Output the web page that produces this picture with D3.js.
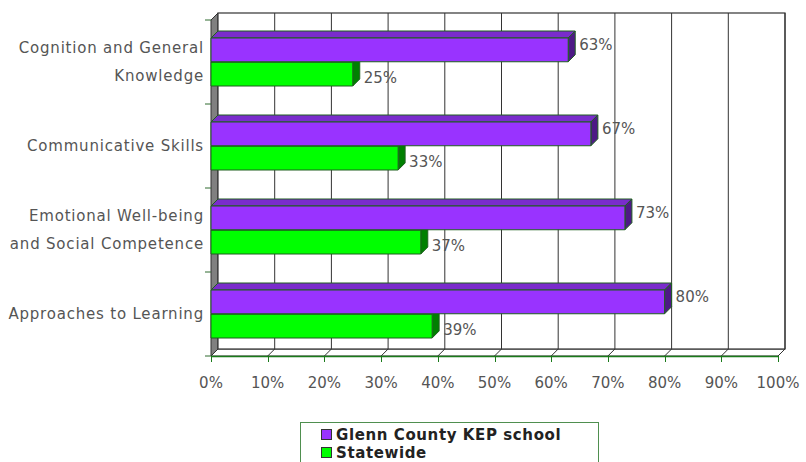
<!DOCTYPE html>
<html>
<head>
<meta charset="utf-8">
<script src="https://cdn.jsdelivr.net/npm/d3@7"></script>
<style>
  body { margin: 0; background: #fff; }
  svg { display: block; }
</style>
</head>
<body>
<div class="chart"></div>
<script>
// data
const categories = [
  ["Cognition and General", "Knowledge"],
  ["Communicative Skills"],
  ["Emotional Well-being", "and Social Competence"],
  ["Approaches to Learning"]
];
const seriesNames = ["Glenn County KEP school", "Statewide"];
const schoolValues = [0.63, 0.67, 0.73, 0.80];
const statewideValues = [0.25, 0.33, 0.37, 0.39];
const tickValues = [0, .1, .2, .3, .4, .5, .6, .7, .8, .9, 1];

const W = 806, H = 462;
const depth = 7;
const fontFam = "'DejaVu Sans', Verdana, sans-serif";

const svg = d3.select('.chart').append('svg')
  .attr('width', W).attr('height', H);

const x = d3.scaleLinear().domain([0, 1]).range([211, 778]);
const y = d3.scaleBand().domain(d3.range(categories.length)).range([20, 356])
  .paddingInner(36 / 84).paddingOuter(18 / 84);
const ySub = d3.scaleBand().domain([0, 1]).range([0, y.bandwidth()]).paddingInner(0.02);

const colors = [
  {front: '#9933ff', top: '#7a2ccc', side: '#4d1a85'},
  {front: '#00ff00', top: '#00b000', side: '#008000'}
];
const barStroke = '#1f5f1f';

const top0 = 20, bottom0 = 356;

// left wall
svg.append('polygon')
  .attr('points', [[x(0), top0], [x(0) + depth, top0 - depth], [x(0) + depth, bottom0 - depth], [x(0), bottom0]].join(' '))
  .attr('fill', '#808080').attr('stroke', '#333').attr('stroke-width', 1);

// floor
svg.append('polygon')
  .attr('points', [[x(0), bottom0], [x(0) + depth, bottom0 - depth], [x(1) + depth, bottom0 - depth], [x(1), bottom0]].join(' '))
  .attr('fill', '#fff').attr('stroke', '#333').attr('stroke-width', 1);

// back wall
svg.append('rect')
  .attr('x', x(0) + depth).attr('y', top0 - depth)
  .attr('width', x(1) - x(0)).attr('height', bottom0 - top0)
  .attr('fill', '#fff').attr('stroke', '#333').attr('stroke-width', 1.2);

// gridlines on back wall + floor
const grid = svg.append('g');
grid.selectAll('line.g').data(tickValues.slice(1)).join('line')
  .attr('x1', d => x(d) + depth).attr('x2', d => x(d) + depth)
  .attr('y1', top0 - depth).attr('y2', bottom0 - depth)
  .attr('stroke', '#333').attr('stroke-width', 1);
grid.selectAll('line.f').data(tickValues).join('line')
  .attr('x1', d => x(d) + depth).attr('x2', d => x(d))
  .attr('y1', bottom0 - depth).attr('y2', bottom0)
  .attr('stroke', '#333').attr('stroke-width', 1);

// front x axis
const xAxis = svg.append('g');
xAxis.append('line').attr('x1', x(0)).attr('x2', x(1)).attr('y1', bottom0 + 0.5).attr('y2', bottom0 + 0.5)
  .attr('stroke', '#1a7a1a').attr('stroke-width', 1.5);
xAxis.selectAll('line.t').data(tickValues).join('line')
  .attr('x1', d => Math.round(x(d)) + 0.5).attr('x2', d => Math.round(x(d)) + 0.5)
  .attr('y1', bottom0).attr('y2', bottom0 + 6)
  .attr('stroke', '#1a7a1a').attr('stroke-width', 1);
xAxis.selectAll('text').data(tickValues).join('text')
  .attr('x', d => x(d)).attr('y', 383)
  .attr('text-anchor', 'middle').attr('dominant-baseline', 'middle')
  .attr('font-family', fontFam).attr('font-size', 15).attr('fill', '#555')
  .text(d3.format('.0%'));

// y axis ticks
const bounds = d3.range(categories.length + 1).map(i => top0 + i * y.step());
svg.selectAll('line.yt').data(bounds).join('line')
  .attr('x1', x(0) - 6).attr('x2', x(0))
  .attr('y1', d => d).attr('y2', d => d)
  .attr('stroke', '#2e6b2e').attr('stroke-width', 1);

// category labels
const catG = svg.append('g');
categories.forEach((lines, i) => {
  const cy = y(i) + y.bandwidth() / 2;
  const t = catG.append('text')
    .attr('text-anchor', 'end').attr('font-family', fontFam)
    .attr('font-size', 15).attr('letter-spacing', 0.8).attr('fill', '#555');
  lines.forEach((ln, j) => {
    t.append('tspan').attr('x', 204)
      .attr('y', cy + (j - (lines.length - 1) / 2) * 28)
      .attr('dominant-baseline', 'middle')
      .text(ln);
  });
});

// bars
const seriesData = [schoolValues, statewideValues];
const bars = svg.append('g');
categories.forEach((c, i) => {
  [1, 0].forEach(s => {
    const v = seriesData[s][i];
    const x0 = x(0), x1 = x(v);
    const y0 = y(i) + ySub(s), h = ySub.bandwidth();
    const col = colors[s];
    const g = bars.append('g').attr('stroke', barStroke).attr('stroke-width', 1).attr('stroke-linejoin', 'round');
    g.append('polygon')
      .attr('points', [[x0, y0], [x0 + depth, y0 - depth], [x1 + depth, y0 - depth], [x1, y0]].join(' '))
      .attr('fill', col.top);
    g.append('polygon')
      .attr('points', [[x1, y0], [x1 + depth, y0 - depth], [x1 + depth, y0 + h - depth], [x1, y0 + h]].join(' '))
      .attr('fill', col.side);
    g.append('rect')
      .attr('x', x0).attr('y', y0).attr('width', x1 - x0).attr('height', h)
      .attr('fill', col.front);
  });
});

// value labels
const labelShift = [-4, 4];
categories.forEach((c, i) => {
  [0, 1].forEach(s => {
    const v = seriesData[s][i];
    svg.append('text')
      .attr('x', x(v) + depth + 4)
      .attr('y', y(i) + ySub(s) + ySub.bandwidth() / 2 + labelShift[s])
      .attr('dominant-baseline', 'middle')
      .attr('font-family', fontFam).attr('font-size', 15).attr('fill', '#555')
      .text(d3.format('.0%')(v));
  });
});

// legend
const lg = svg.append('g');
lg.append('rect').attr('x', 300.5).attr('y', 422.5).attr('width', 298).attr('height', 50)
  .attr('fill', '#fff').attr('stroke', '#4f8f4f').attr('stroke-width', 1);
seriesNames.forEach((n, i) => {
  const ly = 435 + i * 18;
  lg.append('rect').attr('x', 321.5).attr('y', ly - 5.5).attr('width', 10).attr('height', 10)
    .attr('fill', colors[i].front).attr('stroke', '#333').attr('stroke-width', 1);
  lg.append('text').attr('x', 336).attr('y', ly).attr('dominant-baseline', 'middle')
    .attr('font-family', fontFam).attr('font-weight', 'bold').attr('font-size', 15)
    .attr('letter-spacing', 0.6).attr('fill', '#222')
    .text(n);
});
</script>
</body>
</html>
